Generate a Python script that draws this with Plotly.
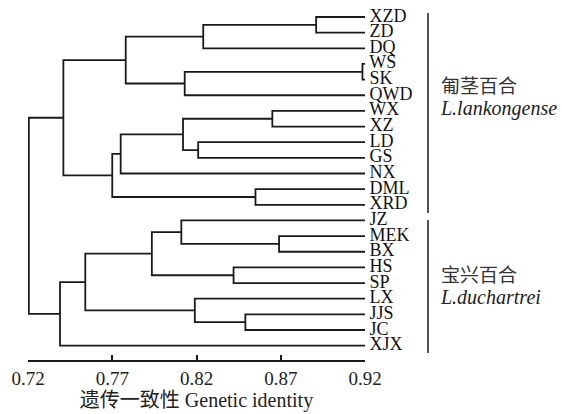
import plotly.graph_objects as go

# ---- data ----
leaves = ["XZD", "ZD", "DQ", "WS", "SK", "QWD", "WX", "XZ", "LD", "GS", "NX",
          "DML", "XRD", "JZ", "MEK", "BX", "HS", "SP", "LX", "JJS", "JC", "XJX"]
leaf_identity = 0.92
# merges: (child_a, child_b, identity); names refer to leaves, "nK" to merge K (1-based)
merge_a = ["XZD", "n1", "WS", "n3", "n2", "WX", "LD", "n6", "n8", "DML", "n9", "n5",
           "MEK", "JZ", "HS", "n14", "JJS", "LX", "n16", "n19", "n12"]
merge_b = ["ZD", "DQ", "SK", "QWD", "n4", "XZ", "GS", "n7", "NX", "XRD", "n10", "n11",
           "BX", "n13", "SP", "n15", "JC", "n17", "n18", "XJX", "n20"]
merge_identity = [0.891, 0.824, 0.9185, 0.813, 0.778, 0.865, 0.821, 0.812, 0.775, 0.855, 0.770, 0.741,
                  0.869, 0.811, 0.842, 0.7935, 0.849, 0.819, 0.754, 0.739, 0.7205]
tick_vals = [0.72, 0.77, 0.82, 0.87, 0.92]
tick_text = ["0.72", "0.77", "0.82", "0.87", "0.92"]
group_cn = ["匍茎百合", "宝兴百合"]
group_lat = ["L.lankongense", "L.duchartrei"]

# ---- build dendrogram line segments ----
pos = {}
for i, name in enumerate(leaves):
    pos[name] = (leaf_identity, i)

xs, ys = [], []
for k, (a, b, h) in enumerate(zip(merge_a, merge_b, merge_identity), start=1):
    xa, ya = pos[a]
    xb, yb = pos[b]
    xs += [xa, h, h, xb, None]
    ys += [ya, ya, yb, yb, None]
    pos["n%d" % k] = (h, (ya + yb) / 2)

fig = go.Figure()
fig.add_trace(go.Scatter(x=xs, y=ys, mode="lines",
                         line=dict(color="#1a1a1a", width=1.8),
                         hoverinfo="skip", showlegend=False))
fig.add_trace(go.Scatter(x=[leaf_identity] * len(leaves), y=list(range(len(leaves))),
                         mode="text", text=leaves, texttemplate=" %{text}",
                         textposition="middle right",
                         textfont=dict(family="Liberation Serif", size=18, color="#111"),
                         cliponaxis=False, hoverinfo="skip", showlegend=False))

W, H = 562, 414
L, R, T, B = 28, 562 - 365, 0, 54
ph = H - T - B
pw = W - L - R
y0px, dy = 17.0, 15.65
ytop = -(y0px) / dy
ybot = (ph - y0px) / dy


def px_x(p):
    return (p - L) / pw


def px_y(p):
    return 1 - (p - T) / ph


shapes = [
    dict(type="line", xref="paper", yref="paper", x0=px_x(428), x1=px_x(428),
         y0=px_y(13), y1=px_y(213), line=dict(color="#1a1a1a", width=1.5)),
    dict(type="line", xref="paper", yref="paper", x0=px_x(428), x1=px_x(428),
         y0=px_y(220), y1=px_y(353), line=dict(color="#1a1a1a", width=1.5)),
]
annotations = []
for cn, lat, ycn, ylat in zip(group_cn, group_lat, [84, 273], [108, 297]):
    annotations.append(dict(xref="paper", yref="paper", x=px_x(439), y=px_y(ycn),
                            xanchor="left", yanchor="middle", showarrow=False, text=cn,
                            font=dict(family="Noto Sans CJK SC", size=19, color="#333")))
    annotations.append(dict(xref="paper", yref="paper", x=px_x(438), y=px_y(ylat),
                            xanchor="left", yanchor="middle", showarrow=False,
                            text="<i>%s</i>" % lat,
                            font=dict(family="Liberation Serif", size=20, color="#222")))

fig.update_layout(
    width=W, height=H,
    margin=dict(l=L, r=R, t=T, b=B, pad=0, autoexpand=False),
    paper_bgcolor="white", plot_bgcolor="white",
    shapes=shapes, annotations=annotations,
    xaxis=dict(range=[0.72, 0.92], tickvals=tick_vals, ticktext=tick_text,
               ticks="inside", ticklen=5, tickwidth=1.5, tickcolor="#1a1a1a",
               showline=True, linecolor="#1a1a1a", linewidth=1.8,
               showgrid=False, zeroline=False, automargin=False,
               tickfont=dict(family="Liberation Serif", size=19, color="#222"),
               title=dict(text="遗传一致性 Genetic identity", standoff=4,
                          font=dict(family="Liberation Serif, Noto Sans CJK SC", size=20, color="#222"))),
    yaxis=dict(range=[ybot, ytop], visible=False, showgrid=False, zeroline=False),
)

fig.write_html("out.html", config={"displayModeBar": False},
               post_script="document.body.style.margin='0';document.body.style.overflow='hidden';")
